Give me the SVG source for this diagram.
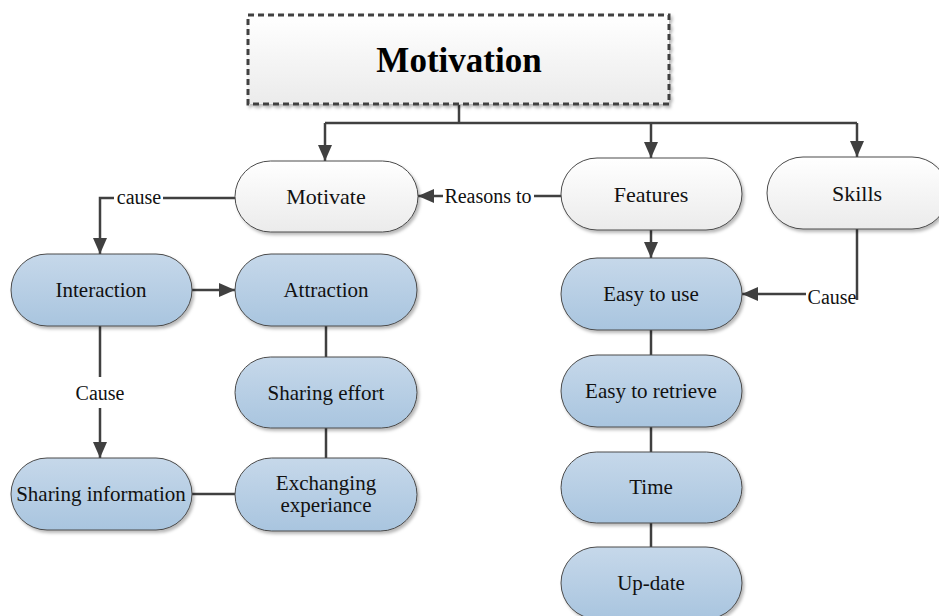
<svg xmlns="http://www.w3.org/2000/svg" width="939" height="616" viewBox="0 0 939 616">
  <defs>
    <linearGradient id="gBlue" x1="0" y1="0" x2="0" y2="1">
      <stop offset="0" stop-color="#c6d8ea"/>
      <stop offset="1" stop-color="#a9c5df"/>
    </linearGradient>
    <linearGradient id="gWhite" x1="0" y1="0" x2="0" y2="1">
      <stop offset="0" stop-color="#ffffff"/>
      <stop offset="1" stop-color="#ebebeb"/>
    </linearGradient>
    <filter id="shadow" x="-10%" y="-10%" width="125%" height="130%">
      <feDropShadow dx="2" dy="2.5" stdDeviation="1.5" flood-color="#000" flood-opacity="0.28"/>
    </filter>
    <marker id="arrow" viewBox="0 0 16 14" refX="16" refY="7" markerWidth="16" markerHeight="14" markerUnits="userSpaceOnUse" orient="auto">
      <path d="M0,0 L16,7 L0,14 z" fill="#404040"/>
    </marker>
  </defs>
  <style>
    .blue { fill: url(#gBlue); stroke: #4a4a4a; stroke-width: 1; filter: url(#shadow); }
    .white { fill: url(#gWhite); stroke: #4a4a4a; stroke-width: 1; filter: url(#shadow); }
    text { font-family: "Liberation Serif", "Tinos", "Times New Roman", Times, "DejaVu Serif", "Noto Serif", serif; }
    .t { fill: #111; text-anchor: middle; }
    .tb { font-size: 21px; }
    .tw { font-size: 22px; }
    .lbl { font-size: 20px; fill: #111; text-anchor: middle; }
    .title { font-size: 35px; font-weight: bold; fill: #000; text-anchor: middle; }
    .c { fill: none; stroke: #404040; stroke-width: 2.5; }
    .ca { fill: none; stroke: #404040; stroke-width: 2.5; marker-end: url(#arrow); }
  </style>

  <rect width="939" height="616" fill="#ffffff"/>

  <!-- connectors -->
  <g id="connectors">
    <path class="c" d="M459,105 V123"/>
    <path class="c" d="M325,123 H857"/>
    <path class="ca" d="M325,123 V161"/>
    <path class="ca" d="M651,123 V158"/>
    <path class="ca" d="M857,123 V157"/>
    <!-- Features to Motivate -->
    <path class="ca" d="M561,196 H534 M443,196 H418"/>
    <!-- Motivate to Interaction -->
    <path class="ca" d="M235,198 H163 M114,198 H100 V254"/>
    <path class="ca" d="M192,290 H235"/>
    <!-- Interaction to Sharing information -->
    <path class="ca" d="M100,326 V377 M100,408 V458"/>
    <path class="c" d="M326,326 V357"/>
    <path class="c" d="M326,428 V458"/>
    <path class="c" d="M192,494 H235"/>
    <!-- Features column -->
    <path class="ca" d="M651,230 V258"/>
    <path class="c" d="M651,330 V355"/>
    <path class="c" d="M651,427 V452"/>
    <path class="c" d="M651,523 V547"/>
    <!-- Skills to Easy to use -->
    <path class="c" d="M857,229 V300"/>
    <path class="ca" d="M806,294 H742"/>
    <text class="lbl" x="139" y="204">cause</text>
    <text class="lbl" x="488" y="203">Reasons to</text>
    <text class="lbl" x="100" y="400">Cause</text>
    <text class="lbl" x="832" y="304">Cause</text>
  </g>

  <g id="motivation">
    <rect x="248" y="15" width="421" height="89" fill="url(#gWhite)" stroke="#404040" stroke-width="3" stroke-dasharray="6,4" filter="url(#shadow)"/>
    <text class="title" x="459" y="72">Motivation</text>
  </g>

  <g id="motivate">
    <rect class="white" x="235" y="161" width="183" height="71" rx="35.5"/>
    <text class="t tw" x="326" y="204">Motivate</text>
  </g>
  <g id="features">
    <rect class="white" x="561" y="158" width="181" height="72" rx="36"/>
    <text class="t tw" x="651" y="202">Features</text>
  </g>
  <g id="skills">
    <rect class="white" x="767" y="157" width="181" height="72" rx="36"/>
    <text class="t tw" x="857" y="201">Skills</text>
  </g>

  <g id="interaction">
    <rect class="blue" x="11" y="254" width="181" height="72" rx="36"/>
    <text class="t tb" x="101" y="297">Interaction</text>
  </g>
  <g id="attraction">
    <rect class="blue" x="235" y="254" width="182" height="72" rx="36"/>
    <text class="t tb" x="326" y="297">Attraction</text>
  </g>
  <g id="sharing-effort">
    <rect class="blue" x="235" y="357" width="182" height="71" rx="35.5"/>
    <text class="t tb" x="326" y="400">Sharing effort</text>
  </g>
  <g id="exchanging-experiance">
    <rect class="blue" x="235" y="458" width="182" height="73" rx="36.5"/>
    <text class="t tb" x="326" y="490">Exchanging</text>
    <text class="t tb" x="326" y="512">experiance</text>
  </g>
  <g id="sharing-information">
    <rect class="blue" x="11" y="458" width="181" height="72" rx="36"/>
    <text class="t tb" x="101" y="501">Sharing information</text>
  </g>

  <g id="easy-to-use">
    <rect class="blue" x="561" y="258" width="181" height="72" rx="36"/>
    <text class="t tb" x="651" y="301">Easy to use</text>
  </g>
  <g id="easy-to-retrieve">
    <rect class="blue" x="561" y="355" width="181" height="72" rx="36"/>
    <text class="t tb" x="651" y="398">Easy to retrieve</text>
  </g>
  <g id="time">
    <rect class="blue" x="561" y="452" width="181" height="71" rx="35.5"/>
    <text class="t tb" x="651" y="494">Time</text>
  </g>
  <g id="up-date">
    <rect class="blue" x="561" y="547" width="181" height="72" rx="36"/>
    <text class="t tb" x="651" y="590">Up-date</text>
  </g>
</svg>
